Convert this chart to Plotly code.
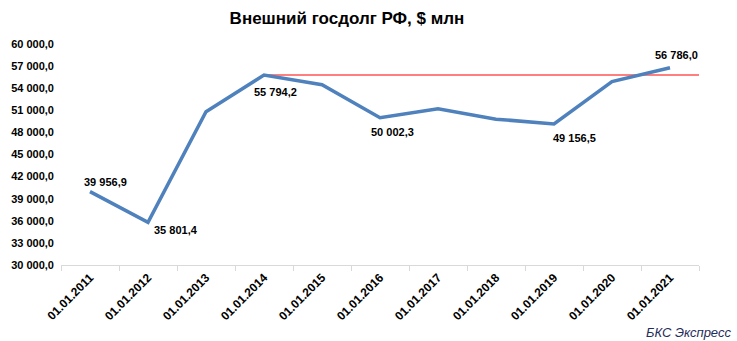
import plotly.graph_objects as go

categories = ["01.01.2011", "01.01.2012", "01.01.2013", "01.01.2014", "01.01.2015",
              "01.01.2016", "01.01.2017", "01.01.2018", "01.01.2019", "01.01.2020", "01.01.2021"]
debt = [39956.9, 35801.4, 50800.0, 55794.2, 54480.0, 50002.3, 51220.0, 49800.0, 49156.5, 54890.0, 56786.0]
labeled = [True, True, False, True, False, True, False, False, True, False, True]
label_dx = [15, 28, 0, 11, 0, 12, 0, 0, 20, 0, 6]
label_dy = [10, -8, 0, -17, 0, -14, 0, 0, -14, 0, 13]
ref_level = 55794.2
ref_start = "01.01.2014"
y_ticks = [30000, 33000, 36000, 39000, 42000, 45000, 48000, 51000, 54000, 57000, 60000]


def fmt(v):
    return f"{v:,.1f}".replace(",", " ").replace(".", ",")


fig = go.Figure()
fig.add_trace(go.Scatter(
    x=categories, y=debt, mode="lines",
    line=dict(color="#4F81BD", width=3.5), showlegend=False,
))
start_idx = categories.index(ref_start)
fig.add_shape(type="line", xref="x", yref="y", x0=start_idx, x1=len(categories) - 0.5,
              y0=ref_level, y1=ref_level, line=dict(color="#FF0000", width=1.2), layer="below")

annotations = []
for c, v, lab, dx, dy in zip(categories, debt, labeled, label_dx, label_dy):
    if lab:
        annotations.append(dict(x=c, y=v, xref="x", yref="y", text=f"<b>{fmt(v)}</b>",
                                showarrow=False, xshift=dx, yshift=dy,
                                font=dict(family="Liberation Sans", size=11, color="#000000")))
annotations.append(dict(text="<i>БКС Экспресс</i>", xref="paper", yref="paper",
                        x=1 + 34 / 638, y=-67 / 221, xanchor="right", yanchor="middle",
                        showarrow=False,
                        font=dict(family="Liberation Sans", size=13, color="#1F2D5A")))

fig.update_layout(
    width=737, height=341,
    margin=dict(l=61, r=38, t=44, b=76),
    paper_bgcolor="white", plot_bgcolor="white",
    separators=", ",
    font=dict(family="Liberation Sans", size=11, color="#000000"),
    title=dict(text="<b>Внешний госдолг РФ, $ млн</b>", x=347 / 737, xanchor="center",
               y=1 - 18 / 341, yanchor="middle", font=dict(size=17, family="Liberation Sans")),
    xaxis=dict(
        type="category", categoryorder="array", categoryarray=categories,
        range=[-0.5, len(categories) - 0.5], tickangle=-45, showgrid=False,
        showline=True, linecolor="#D9D9D9", linewidth=1,
        ticks="outside", tickson="boundaries", ticklen=5, tickcolor="#D9D9D9",
        tickfont=dict(family="Liberation Sans", size=12, weight="bold"),
    ),
    yaxis=dict(
        range=[30000, 60000], tickvals=y_ticks, tickformat=",.1f", showgrid=False,
        showline=False, zeroline=False, ticks="", ticklabelstandoff=6,
        tickfont=dict(family="Liberation Sans", size=11, weight="bold"),
    ),
    annotations=annotations,
)

fig.write_html("out.html")
